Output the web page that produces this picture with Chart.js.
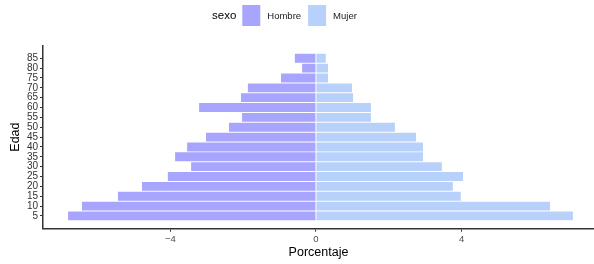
<!DOCTYPE html>
<html>
<head>
<meta charset="utf-8">
<script src="https://cdn.jsdelivr.net/npm/chart.js@4"></script>
<style>
  html, body { margin: 0; padding: 0; background: #fff; }
  #wrap { width: 594px; height: 264px; position: relative; }
</style>
</head>
<body>
<div id="wrap"><canvas id="pyramid"></canvas></div>
<script>
const edad = [5, 10, 15, 20, 25, 30, 35, 40, 45, 50, 55, 60, 65, 70, 75, 80, 85];
const hombre = [-6.81, -6.43, -5.44, -4.78, -4.07, -3.43, -3.87, -3.54, -3.02, -2.39, -2.03, -3.21, -2.06, -1.87, -0.96, -0.38, -0.58];
const mujer = [7.06, 6.43, 3.98, 3.76, 4.04, 3.46, 2.94, 2.94, 2.75, 2.17, 1.51, 1.51, 1.02, 0.99, 0.33, 0.33, 0.27];
const xTicks = [-4, 0, 4];
const serieNames = ['Hombre', 'Mujer'];
const serieColors = ['#a7a5ff', '#b8d1fb'];

const FONT = '"Liberation Sans", Arial, Helvetica, sans-serif';

// leyenda estilo ggplot: titulo a la izquierda, cajas y textos en linea
const ggLegend = {
  id: 'ggLegend',
  afterDraw(chart) {
    const ctx = chart.ctx;
    ctx.save();
    ctx.textBaseline = 'middle';
    let x = 212;
    const cy = 16;
    ctx.font = '11.5px ' + FONT;
    ctx.fillStyle = '#000';
    ctx.fillText('sexo', x, cy);
    x += ctx.measureText('sexo').width + 6;
    ctx.font = '9.5px ' + FONT;
    chart.data.datasets.forEach(ds => {
      ctx.fillStyle = ds.backgroundColor;
      ctx.fillRect(x, 5, 18, 21);
      x += 18 + 7;
      ctx.fillStyle = '#1a1a1a';
      ctx.fillText(ds.label, x, cy);
      x += ctx.measureText(ds.label).width + 7;
    });
    ctx.restore();
  }
};

new Chart(document.getElementById('pyramid'), {
  type: 'bar',
  data: {
    datasets: [
      {
        label: serieNames[0],
        data: edad.map((e, i) => ({ x: hombre[i], y: e })),
        backgroundColor: serieColors[0],
        borderWidth: 0,
        barPercentage: 0.9,
        categoryPercentage: 1.0
      },
      {
        label: serieNames[1],
        data: edad.map((e, i) => ({ x: mujer[i], y: e })),
        backgroundColor: serieColors[1],
        borderWidth: 0,
        barPercentage: 0.9,
        categoryPercentage: 1.0
      }
    ]
  },
  options: {
    indexAxis: 'y',
    responsive: true,
    maintainAspectRatio: false,
    animation: false,
    layout: { padding: { top: 45.5, right: 0, left: 0, bottom: 0 } },
    plugins: {
      legend: { display: false },
      tooltip: { enabled: false }
    },
    scales: {
      x: {
        type: 'linear',
        stacked: true,
        min: -7.5,
        max: 7.64,
        afterBuildTicks: s => { s.ticks = xTicks.map(v => ({ value: v })); },
        afterFit: s => { s.height = 35.3; },
        border: { display: true, color: '#333', width: 1.5 },
        grid: { drawOnChartArea: false, drawTicks: true, tickLength: 3, color: '#333', tickWidth: 1 },
        ticks: {
          color: '#4d4d4d',
          font: { family: FONT, size: 9.5 },
          padding: 2,
          callback: v => v < 0 ? '\u2212' + Math.abs(v) : String(v)
        },
        title: {
          display: true,
          text: 'Porcentaje',
          color: '#000',
          font: { family: FONT, size: 12.5 },
          padding: { top: 0, bottom: 4 }
        }
      },
      y: {
        type: 'linear',
        stacked: true,
        offset: false,
        min: -1.475,
        max: 91.475,
        afterBuildTicks: s => { s.ticks = edad.map(v => ({ value: v })); },
        afterFit: s => { s.width = 43; },
        border: { display: true, color: '#333', width: 1.5 },
        grid: { drawOnChartArea: false, drawTicks: true, tickLength: 3, color: '#333', tickWidth: 1, offset: false },
        ticks: {
          color: '#333',
          font: { family: FONT, size: 10 },
          padding: 2,
          autoSkip: false
        },
        title: {
          display: true,
          text: 'Edad',
          color: '#000',
          font: { family: FONT, size: 12.5 },
          padding: { top: 8, bottom: 0 }
        }
      }
    }
  },
  plugins: [ggLegend]
});
</script>
</body>
</html>
